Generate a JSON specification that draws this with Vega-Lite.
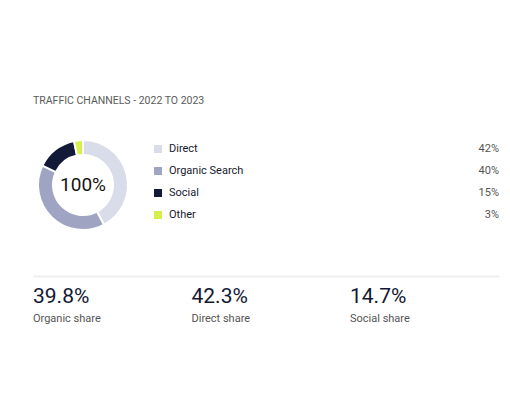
{
  "$schema": "https://vega.github.io/schema/vega-lite/v6.json",
  "background": "white",
  "padding": {"left": 33, "top": 95, "right": 11, "bottom": 10},
  "title": {
    "text": "TRAFFIC CHANNELS - 2022 TO 2023",
    "anchor": "start",
    "fontSize": 10.5,
    "fontWeight": "normal",
    "color": "#5a5a5a",
    "offset": 30
  },
  "datasets": {
    "channels": [
      {"channel": "Direct", "share": 0.423, "kpi": "Direct share"},
      {"channel": "Organic Search", "share": 0.398, "kpi": "Organic share"},
      {"channel": "Social", "share": 0.147, "kpi": "Social share"},
      {"channel": "Other", "share": 0.032, "kpi": null}
    ]
  },
  "spacing": 42,
  "vconcat": [
    {
      "spacing": 21,
      "hconcat": [
        {
          "width": 100,
          "height": 94,
          "data": {"name": "channels"},
          "layer": [
            {
              "mark": {"type": "arc", "outerRadius": 45, "innerRadius": 30, "stroke": "#ffffff", "strokeWidth": 2},
              "encoding": {
                "theta": {"field": "share", "type": "quantitative", "stack": true},
                "order": {"field": "share", "type": "quantitative", "sort": "descending"},
                "color": {
                  "field": "channel",
                  "type": "nominal",
                  "sort": ["Direct", "Organic Search", "Social", "Other"],
                  "scale": {"domain": ["Direct", "Organic Search", "Social", "Other"], "range": ["#d9dde9", "#9ea4c1", "#131a38", "#d6ef4a"]},
                  "legend": null
                }
              }
            },
            {
              "mark": {"type": "text", "fontSize": 19, "color": "#141414"},
              "encoding": {
                "text": {"aggregate": "sum", "field": "share", "type": "quantitative", "format": ".0%"}
              }
            }
          ]
        },
        {
          "width": 341,
          "height": {"step": 22},
          "data": {"name": "channels"},
          "encoding": {
            "y": {"field": "channel", "type": "nominal", "sort": ["Direct", "Organic Search", "Social", "Other"], "axis": null}
          },
          "layer": [
            {
              "mark": {"type": "square", "size": 64, "filled": true, "opacity": 1},
              "encoding": {
                "x": {"datum": 0, "type": "quantitative", "scale": {"domain": [0, 1], "nice": false, "zero": false}, "axis": null},
                "color": {
                  "field": "channel",
                  "type": "nominal",
                  "scale": {"domain": ["Direct", "Organic Search", "Social", "Other"], "range": ["#d9dde9", "#9ea4c1", "#131a38", "#d6ef4a"]},
                  "legend": null
                }
              }
            },
            {
              "mark": {"type": "text", "align": "left", "dx": 11, "fontSize": 11, "color": "#161a2e"},
              "encoding": {
                "x": {"datum": 0, "type": "quantitative"},
                "text": {"field": "channel", "type": "nominal"}
              }
            },
            {
              "mark": {"type": "text", "align": "right", "fontSize": 11, "color": "#555555"},
              "encoding": {
                "x": {"datum": 1, "type": "quantitative"},
                "text": {"field": "share", "type": "quantitative", "format": ".0%"}
              }
            }
          ]
        }
      ]
    },
    {
      "width": 466,
      "height": 81,
      "data": {"name": "channels"},
      "transform": [{"filter": "datum.kpi != null"}],
      "encoding": {
        "x": {
          "field": "kpi",
          "type": "nominal",
          "sort": ["Organic share", "Direct share", "Social share"],
          "scale": {"type": "point", "padding": 0.47, "align": 0},
          "axis": {"orient": "top", "labels": false, "ticks": false, "title": null, "grid": false, "domainColor": "#eeeeee", "domainWidth": 2}
        },
        "y": {"datum": "value", "type": "nominal", "scale": {"type": "point", "domain": ["value", "label"], "padding": 1.69}, "axis": null}
      },
      "layer": [
        {
          "mark": {"type": "text", "align": "left", "baseline": "alphabetic", "fontSize": 21, "color": "#121833"},
          "encoding": {
            "text": {"field": "share", "type": "quantitative", "format": ".1%"}
          }
        },
        {
          "mark": {"type": "text", "align": "left", "baseline": "alphabetic", "dy": 18.5, "fontSize": 11, "color": "#555555"},
          "encoding": {
            "text": {"field": "kpi", "type": "nominal"}
          }
        }
      ]
    }
  ],
  "config": {
    "font": "Roboto",
    "view": {"stroke": null}
  }
}
